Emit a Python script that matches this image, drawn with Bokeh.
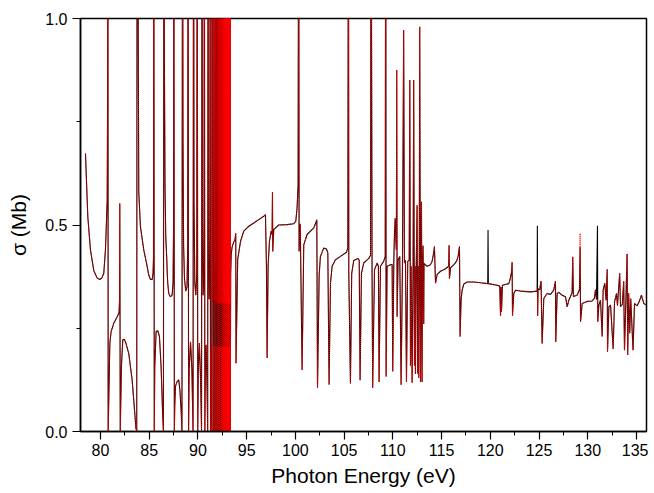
from bokeh.plotting import figure
from bokeh.models import SingleIntervalTicker, PrintfTickFormatter, Range1d
from bokeh.embed import file_html
from bokeh.resources import INLINE

# ---- data (photon energy in eV, cross section in Mb) ----
energy_a = [78.46, 78.70, 78.97, 79.31, 79.65, 79.93, 80.15, 80.34, 80.51, 80.62, 80.69, 80.73, 80.76, 80.79,
            80.85, 80.96, 81.09, 81.37, 81.71, 81.91, 81.96, 81.98, 82.03, 82.15, 82.29, 82.45, 82.57, 82.90,
            83.25, 83.52, 83.65, 83.69, 83.72, 83.76, 83.82, 83.87, 83.93, 84.10, 84.44, 84.79, 84.95, 85.13,
            85.30, 85.40, 85.44, 85.47, 85.52]
sigma_a = [0.673, 0.52, 0.44, 0.39, 0.372, 0.368, 0.372, 0.383, 0.44, 0.512, 0.56, 0.8, 1.5, 0.0,
           0.076, 0.213, 0.242, 0.262, 0.278, 0.288, 0.32, 0.552, 0.0, 0.157, 0.222, 0.223, 0.217, 0.189,
           0.125, 0.044, 0.005, 0.02, 0.0, 1.5, 1.5, 1.0, 0.58, 0.496, 0.44, 0.40, 0.379, 0.368,
           0.368, 0.385, 0.42, 1.5, 0.0]

energy_b = [85.57, 85.71, 85.88, 86.05, 86.22, 86.39, 86.46, 86.51, 86.56, 86.62, 86.70, 86.80, 86.85, 86.90,
            87.00, 87.18, 87.35, 87.45, 87.50, 87.53, 87.58, 87.62, 87.70, 87.85, 88.03, 88.15, 88.28, 88.36,
            88.42, 88.47, 88.53, 88.62, 88.75, 88.88, 88.95, 88.99, 89.04, 89.10, 89.24, 89.38, 89.50, 89.55,
            89.60, 89.68, 89.78, 89.88, 89.93, 89.98, 90.04, 90.15, 90.28, 90.37, 90.42, 90.47, 90.53, 90.62,
            90.66, 90.71, 90.76, 90.84, 90.94, 91.00, 91.04, 91.09, 91.15, 91.22, 91.26, 91.29]
sigma_b = [0.157, 0.242, 0.244, 0.23, 0.157, 0.036, 0.0, 1.5, 0.9, 0.6, 0.47, 0.42, 0.383, 0.36,
           0.335, 0.326, 0.33, 0.36, 0.5, 1.5, 0.0, 0.06, 0.11, 0.12, 0.125, 0.10, 0.05, 0.0,
           1.5, 0.7, 0.45, 0.37, 0.34, 0.35, 0.45, 1.5, 0.0, 0.15, 0.217, 0.15, 0.0, 1.5,
           0.55, 0.36, 0.33, 0.38, 1.5, 0.0, 0.15, 0.214, 0.12, 0.0, 1.5, 0.5, 0.33, 0.36,
           1.5, 0.0, 0.15, 0.21, 0.1, 0.0, 1.5, 0.45, 0.32, 0.4, 1.5, 0.0]

# the unresolved block of resonances just below the series limit (~93.3 eV)
energy_dense = [91.32, 91.36, 91.40, 91.42, 91.44, 91.47, 91.50, 91.53, 91.55, 91.57,
                91.60, 91.63, 91.66, 91.68, 91.70, 91.72, 91.75, 91.78, 91.80, 91.82,
                91.84, 91.87, 91.90, 91.91, 91.93, 91.95, 91.97, 92.00, 92.02, 92.04,
                92.06, 92.08, 92.10, 92.11, 92.13, 92.15, 92.17, 92.19, 92.21, 92.22,
                92.24, 92.26, 92.28, 92.29, 92.31, 92.33, 92.35, 92.37, 92.38, 92.39,
                92.41, 92.43, 92.45, 92.46, 92.48, 92.50, 92.51, 92.52,
                92.54, 92.56, 92.57, 92.59, 92.61, 92.62, 92.64, 92.66, 92.67, 92.69, 92.71, 92.72,
                92.74, 92.75, 92.76, 92.78, 92.79, 92.80, 92.82, 92.83, 92.84, 92.86, 92.87, 92.88,
                92.90, 92.91, 92.92, 92.94, 92.95, 92.96, 92.97, 92.98, 92.99, 93.01, 93.02, 93.03,
                93.04, 93.05, 93.06, 93.07, 93.08, 93.09, 93.10, 93.11, 93.12, 93.13, 93.14, 93.15,
                93.16, 93.17, 93.18, 93.19, 93.20, 93.21, 93.22, 93.23, 93.24, 93.25, 93.26, 93.27,
                93.28, 93.29, 93.30, 93.31, 93.32, 93.33, 93.34]
sigma_dense = [0.17, 0.208, 0.08, 0.0, 1.5, 0.40, 0.315, 0.40, 1.5, 0.0,
               0.18, 0.207, 0.06, 0.0, 1.5, 0.42, 0.312, 0.40, 1.5, 0.0,
               0.17, 0.206, 0.08, 0.0, 1.5, 0.42, 0.31, 0.42, 1.5, 0.0,
               0.17, 0.205, 0.08, 0.0, 1.5, 0.40, 0.31, 0.42, 1.5, 0.0,
               0.17, 0.205, 0.08, 0.0, 1.5, 0.40, 0.31, 0.42, 1.5, 0.0,
               0.17, 0.205, 0.0, 1.5, 0.31, 0.42, 1.5, 0.0,
               0.205, 0.0, 1.5, 0.31, 1.5, 0.0, 0.205, 0.0, 1.5, 0.31, 1.5, 0.0,
               0.205, 0.0, 1.5, 0.31, 1.5, 0.0, 0.205, 0.0, 1.5, 0.31, 1.5, 0.0,
               0.205, 0.0, 1.5, 0.31, 1.5, 0.0, 0.205, 0.0, 1.5, 0.31, 1.5, 0.0,
               0.205, 0.0, 1.5, 0.31, 1.5, 0.0, 0.205, 0.0, 1.5, 0.31, 1.5, 0.0,
               0.205, 0.0, 1.5, 0.31, 1.5, 0.0, 0.205, 0.0, 1.5, 0.31, 1.5, 0.0,
               0.205, 0.0, 1.5, 0.31, 1.5, 0.0, 0.2]

energy_c = [93.36, 93.42, 93.51, 93.68, 93.81, 93.88, 93.91, 94.08, 94.37, 94.70, 95.22, 95.73, 96.24, 96.75,
            96.93, 97.03, 97.10, 97.20, 97.34, 97.51, 97.61, 97.65, 97.68, 97.78, 98.29, 99.15, 99.83, 100.04,
            100.17, 100.28, 100.34, 100.38, 100.50, 100.69, 100.86, 101.20, 101.89, 102.09, 102.20, 102.27,
            102.44, 102.57, 102.91, 103.19, 103.33, 103.46, 103.60, 103.77, 104.11, 104.63, 105.24, 105.38,
            105.45, 105.48, 105.65, 105.78, 105.99, 106.40, 106.55, 106.64, 106.78, 107.01, 107.53, 107.71,
            107.77, 107.87, 107.93, 108.12, 108.39, 108.52, 108.59, 108.73, 109.06, 109.22, 109.27, 109.31]
sigma_c = [0.38, 0.43, 0.447, 0.459, 0.465, 0.48, 0.165, 0.417, 0.46, 0.485, 0.497, 0.505, 0.513, 0.521,
           0.525, 0.40, 0.178, 0.40, 0.46, 0.485, 0.477, 0.58, 0.436, 0.489, 0.50, 0.501, 0.503, 0.509,
           0.54, 0.596, 1.5, 0.436, 0.503, 0.149, 0.452, 0.477, 0.493, 0.505, 0.513, 0.106,
           0.38, 0.424, 0.444, 0.442, 0.432, 0.114, 0.359, 0.40, 0.416, 0.424, 0.434, 0.444,
           1.5, 0.383, 0.116, 0.383, 0.414, 0.419, 0.415, 0.124, 0.383, 0.408, 0.419, 0.427,
           1.5, 0.379, 0.106, 0.392, 0.408, 0.40, 0.12, 0.40, 0.412, 0.424, 1.5, 0.133]

energy_d = [109.41, 109.76, 109.93, 109.99, 110.10, 110.17, 110.24, 110.30, 110.36, 110.40, 110.44, 110.54,
            110.71, 110.85, 110.99, 111.11, 111.19, 111.30, 111.40, 111.53, 111.68, 111.74, 111.81, 111.88,
            111.98, 112.08, 112.14, 112.22, 112.27, 112.32, 112.40, 112.49, 112.55, 112.61, 112.66, 112.71,
            112.76, 112.84, 112.88, 112.94, 113.00, 113.05, 113.10, 113.17, 113.20, 113.52, 113.86, 114.03,
            114.19, 114.27, 114.38, 114.54, 114.89, 115.40, 115.73, 115.77, 115.81, 115.92, 116.26, 116.53,
            116.70, 116.84, 116.90, 117.00, 117.11, 117.28, 117.62, 118.31, 118.99, 119.74, 119.77, 119.80,
            120.70, 120.97, 121.05, 121.10, 121.15, 121.25, 121.56, 121.90, 122.05, 122.18, 122.24, 122.28,
            122.41, 122.59, 123.10, 124.13]
sigma_d = [0.40, 0.404, 0.404, 0.145, 0.412, 0.48, 0.516, 0.47, 0.44, 0.875, 0.278, 0.416,
           0.424, 0.113, 0.408, 0.972, 0.408, 0.415, 0.12, 0.412, 0.415, 0.851, 0.16, 0.40,
           0.118, 0.40, 0.851, 0.16, 0.40, 0.14, 0.40, 0.548, 0.14, 0.40, 0.13, 0.40,
           0.98, 0.12, 0.40, 0.556, 0.12, 0.40, 0.45, 0.26, 0.407, 0.40, 0.404, 0.412,
           0.432, 0.448, 0.359, 0.38, 0.388, 0.394, 0.40, 0.451, 0.37, 0.396, 0.404, 0.412,
           0.424, 0.448, 0.23, 0.318, 0.342, 0.357, 0.362, 0.362, 0.36, 0.358, 0.488, 0.358,
           0.354, 0.352, 0.28, 0.35, 0.29, 0.354, 0.356, 0.358, 0.37, 0.386, 0.41, 0.28,
           0.334, 0.342, 0.34, 0.338]

energy_e = [124.81, 124.83, 124.86, 124.90, 125.07, 125.21, 125.32, 125.49, 125.83, 126.18, 126.52, 126.69,
            126.72, 126.86, 127.03, 127.38, 127.72, 127.89, 128.06, 128.23, 128.40, 128.46, 128.53, 128.91,
            129.15, 129.22, 129.26, 129.43, 129.94, 130.45, 130.69, 130.79, 130.90, 131.00, 131.03, 131.14,
            131.31, 131.48, 131.58, 131.75, 131.88, 132.00, 132.03, 132.17, 132.34, 132.61, 132.75, 132.95,
            133.05, 133.28, 133.36, 133.55, 133.69, 133.77, 133.90, 134.04, 134.10, 134.20, 134.31, 134.41,
            134.65, 134.80, 135.06, 135.27, 135.51, 135.75, 136.03]
sigma_e = [0.34, 0.498, 0.28, 0.345, 0.343, 0.364, 0.213, 0.322, 0.334, 0.332, 0.343, 0.364,
           0.217, 0.334, 0.337, 0.33, 0.326, 0.302, 0.318, 0.327, 0.337, 0.423, 0.327, 0.33,
           0.343, 0.447, 0.266, 0.31, 0.315, 0.316, 0.323, 0.343, 0.32, 0.498, 0.266, 0.306,
           0.318, 0.23, 0.343, 0.359, 0.318, 0.393, 0.193, 0.302, 0.306, 0.2, 0.314, 0.334,
           0.305, 0.383, 0.302, 0.308, 0.364, 0.197, 0.305, 0.43, 0.185, 0.335, 0.238, 0.322,
           0.197, 0.31, 0.304, 0.314, 0.33, 0.31, 0.306]

# points where the second (red, dotted) calculation differs from the black one
red_differences = {124.83: 0.34, 119.77: 0.358, 129.22: 0.48, 131.00: 0.32}

x_ticks_interval = 5
y_ticks_interval = 0.5

energy = energy_a + energy_b + energy_dense + energy_c + energy_d + energy_e
sigma_black = sigma_a + sigma_b + sigma_dense + sigma_c + sigma_d + sigma_e
sigma_red = [red_differences.get(e, s) for e, s in zip(energy, sigma_black)]

FONT = "Liberation Sans"

p = figure(width=648, height=491,
           x_range=Range1d(77.95, 136.03), y_range=Range1d(0.0, 1.0),
           output_backend="svg", toolbar_location=None,
           min_border_left=80, min_border_right=2, min_border_top=18, min_border_bottom=60,
           background_fill_color="white", border_fill_color="white")

p.line(energy, sigma_black, line_color="black", line_width=1.1)
p.line(energy, sigma_red, line_color="#ff0000", line_width=1.0, line_dash="1 1")

p.xgrid.visible = False
p.ygrid.visible = False
p.outline_line_color = "black"
p.outline_line_width = 1.5
p.outline_line_alpha = 1.0

p.xaxis.ticker = SingleIntervalTicker(interval=x_ticks_interval, num_minor_ticks=2)
p.yaxis.ticker = SingleIntervalTicker(interval=y_ticks_interval, num_minor_ticks=2)
p.yaxis.formatter = PrintfTickFormatter(format="%.1f")

for ax in (p.xaxis[0], p.yaxis[0]):
    ax.axis_line_color = "black"
    ax.axis_line_width = 1.5
    ax.major_tick_line_color = "black"
    ax.minor_tick_line_color = "black"
    ax.major_tick_line_width = 1.2
    ax.minor_tick_line_width = 1.0
    ax.major_tick_in = 0
    ax.major_tick_out = 8
    ax.minor_tick_in = 0
    ax.minor_tick_out = 4
    ax.major_label_text_font = FONT
    ax.major_label_text_font_size = "16px"
    ax.major_label_text_color = "black"
    ax.axis_label_text_font = FONT
    ax.axis_label_text_font_size = "21px"
    ax.axis_label_text_font_style = "normal"
    ax.axis_label_text_color = "black"

p.xaxis.axis_label = "Photon Energy (eV)"
p.yaxis.axis_label = "σ (Mb)"
p.xaxis.major_label_standoff = 4
p.xaxis.axis_label_standoff = 5
p.yaxis.major_label_standoff = 5
p.yaxis.axis_label_standoff = 12

open("out.html", "w").write(file_html(p, INLINE))
